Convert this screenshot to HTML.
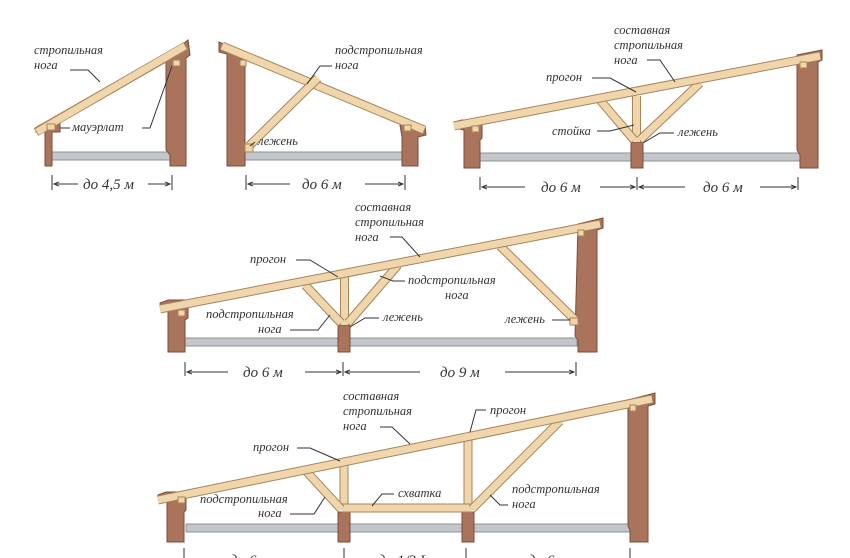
<!DOCTYPE html>
<html><head><meta charset="utf-8"><style>
body{margin:0;background:#fff}
svg{display:block}
text{font-family:"Liberation Serif",serif;font-style:italic;font-size:12.5px;fill:#333}
.d{font-size:15px}
.w{fill:#a9735c;stroke:#7a4e3c;stroke-width:1}
.bo{stroke:#a98458;stroke-width:9;fill:none}
.bi{stroke:#efd6ac;stroke-width:7;fill:none}
.po{stroke:#a98458;stroke-width:9;fill:none}
.fl{fill:#c3c6ca;stroke:#8e9296;stroke-width:1}
.ln{stroke:#333;stroke-width:1;fill:none}
</style></head><body>
<svg width="850" height="558" viewBox="0 0 850 558" xmlns="http://www.w3.org/2000/svg">
<defs>
<marker id="a" markerWidth="6" markerHeight="6" refX="5" refY="3" orient="auto"><path d="M0,1 L5,3 L0,5" fill="none" stroke="#333"/></marker>
</defs>

<!-- Diagram 1 -->
<rect class="fl" x="52" y="152" width="122" height="8"/>
<path class="w" d="M38,126 L47,122 L60,122 L60,132 L52,132 L52,166 L45,166 L45,132 L36,132 Z"/>
<path class="w" d="M168,56 L188,40 L190,55 L186,58 L186,166 L170,166 L170,155 L166,150 L166,62 Z"/>
<line class="bo" x1="36" y1="132" x2="186" y2="46"/><line class="bi" x1="37" y1="132" x2="185" y2="46"/>
<rect x="47" y="124" width="8" height="6" fill="#efd6ac" stroke="#a98458"/>
<rect x="173" y="60" width="7" height="6" fill="#efd6ac" stroke="#a98458"/>
<text x="34" y="54">стропильная</text><text x="34" y="69">нога</text>
<path class="ln" d="M70,70 L88,70 L100,82"/>
<text x="72" y="131">мауэрлат</text><path class="ln" d="M60,128 L70,128 M142,128 L150,128 L172,66"/>
<path class="ln" d="M52,175 V190 M172,175 V190"/>
<line class="ln" x1="78" y1="184" x2="54" y2="184" marker-end="url(#a)"/>
<line class="ln" x1="148" y1="184" x2="170" y2="184" marker-end="url(#a)"/>
<text class="d" x="83" y="189">до 4,5 м</text>

<!-- Diagram 2 -->
<rect class="fl" x="245" y="152" width="160" height="8"/>
<path class="w" d="M219,42 L240,52 L240,58 L245,62 L245,166 L227,166 L227,54 L219,52 Z"/>
<path class="w" d="M400,125 L425,126 L426,135 L418,137 L418,166 L402,166 L402,137 Z"/>
<line class="bo" x1="222" y1="46" x2="424" y2="130"/><line class="bi" x1="222" y1="46" x2="424" y2="130"/>
<line class="bo" x1="249" y1="146" x2="318" y2="78"/><line class="bi" x1="249" y1="146" x2="318" y2="78"/>
<rect x="245" y="144" width="8" height="8" fill="#efd6ac" stroke="#a98458"/>
<rect x="240" y="60" width="6" height="6" fill="#efd6ac" stroke="#a98458"/>
<rect x="404" y="125" width="7" height="6" fill="#efd6ac" stroke="#a98458"/>
<text x="335" y="54">подстропильная</text><text x="335" y="69">нога</text>
<path class="ln" d="M332,66 L320,66 L307,84"/>
<text x="258" y="145">лежень</text><path class="ln" d="M255,142 L250,146"/>
<path class="ln" d="M246,175 V190 M405,175 V190"/>
<line class="ln" x1="290" y1="184" x2="248" y2="184" marker-end="url(#a)"/>
<line class="ln" x1="365" y1="184" x2="403" y2="184" marker-end="url(#a)"/>
<text class="d" x="302" y="189">до 6 м</text>

<!-- Diagram 3 -->
<rect class="fl" x="480" y="153" width="320" height="8"/>
<path class="w" d="M454,122 L462,120 L482,120 L482,138 L480,140 L480,168 L464,168 L464,130 L455,128 Z"/>
<path class="w" d="M797,55 L822,50 L822,60 L818,62 L818,168 L800,168 L800,155 L797,150 Z"/>
<rect class="w" x="631" y="142" width="12" height="26"/>
<line class="po" x1="636.5" y1="96" x2="636.5" y2="142"/><line class="bi" x1="636.5" y1="96" x2="636.5" y2="142"/>
<line class="bo" x1="600" y1="100" x2="634" y2="140"/><line class="bi" x1="600" y1="100" x2="634" y2="140"/>
<line class="bo" x1="700" y1="83" x2="640" y2="140"/><line class="bi" x1="700" y1="83" x2="640" y2="140"/>
<line class="bo" x1="454" y1="126" x2="820" y2="56"/><line class="bi" x1="454" y1="126" x2="820" y2="56"/>
<rect x="472" y="126" width="7" height="6" fill="#efd6ac" stroke="#a98458"/>
<rect x="800" y="62" width="7" height="6" fill="#efd6ac" stroke="#a98458"/>
<text x="614" y="34">составная</text><text x="614" y="49">стропильная</text><text x="614" y="64">нога</text>
<path class="ln" d="M647,60 L660,60 L675,82"/>
<text x="546" y="81">прогон</text><path class="ln" d="M592,78 L610,78 L636,92"/>
<text x="552" y="135">стойка</text><path class="ln" d="M597,131 L610,131 L634,125"/>
<text x="678" y="136">лежень</text><path class="ln" d="M674,133 L660,133 L643,143"/>
<path class="ln" d="M480,177 V190 M637,177 V190 M798,177 V190"/>
<line class="ln" x1="525" y1="187" x2="482" y2="187" marker-end="url(#a)"/>
<line class="ln" x1="600" y1="187" x2="635" y2="187" marker-end="url(#a)"/>
<line class="ln" x1="685" y1="187" x2="639" y2="187" marker-end="url(#a)"/>
<line class="ln" x1="760" y1="187" x2="796" y2="187" marker-end="url(#a)"/>
<text class="d" x="541" y="192">до 6 м</text><text class="d" x="703" y="192">до 6 м</text>

<!-- Diagram 4 -->
<rect class="fl" x="185" y="338" width="392" height="8"/>
<path class="w" d="M160,303 L168,300 L188,300 L188,318 L185,320 L185,352 L168,352 L168,310 L161,308 Z"/>
<path class="w" d="M578,224 L603,218 L603,228 L597,230 L597,352 L578,352 L578,340 L575,336 Z"/>
<rect class="w" x="338" y="325" width="12" height="27"/>
<line class="po" x1="344.5" y1="277" x2="344.5" y2="325"/><line class="bi" x1="344.5" y1="277" x2="344.5" y2="325"/>
<line class="bo" x1="305" y1="285" x2="341" y2="323"/><line class="bi" x1="305" y1="285" x2="341" y2="323"/>
<line class="bo" x1="398" y1="265" x2="348" y2="323"/><line class="bi" x1="398" y1="265" x2="348" y2="323"/>
<line class="bo" x1="500" y1="246" x2="575" y2="320"/><line class="bi" x1="500" y1="246" x2="575" y2="320"/>
<line class="bo" x1="160" y1="309" x2="600" y2="224"/><line class="bi" x1="160" y1="309" x2="600" y2="224"/>
<rect x="178" y="310" width="7" height="6" fill="#efd6ac" stroke="#a98458"/>
<rect x="570" y="318" width="8" height="7" fill="#efd6ac" stroke="#a98458"/>
<rect x="578" y="230" width="6" height="6" fill="#efd6ac" stroke="#a98458"/>
<text x="355" y="211">составная</text><text x="355" y="226">стропильная</text><text x="355" y="241">нога</text>
<path class="ln" d="M390,237 L402,237 L420,257"/>
<text x="250" y="263">прогон</text><path class="ln" d="M296,260 L310,260 L338,277"/>
<text x="408" y="284">подстропильная</text><text x="445" y="299">нога</text>
<path class="ln" d="M405,281 L393,281 L380,276"/>
<text x="206" y="318">подстропильная</text><text x="258" y="333">нога</text>
<path class="ln" d="M290,330 L318,330 L330,315"/>
<text x="383" y="321">лежень</text><path class="ln" d="M379,318 L365,318 L350,327"/>
<text x="505" y="323">лежень</text><path class="ln" d="M552,320 L570,320"/>
<path class="ln" d="M185,362 V376 M343,362 V376 M576,362 V376"/>
<line class="ln" x1="228" y1="372" x2="187" y2="372" marker-end="url(#a)"/>
<line class="ln" x1="305" y1="372" x2="341" y2="372" marker-end="url(#a)"/>
<line class="ln" x1="420" y1="372" x2="345" y2="372" marker-end="url(#a)"/>
<line class="ln" x1="505" y1="372" x2="574" y2="372" marker-end="url(#a)"/>
<text class="d" x="243" y="377">до 6 м</text><text class="d" x="440" y="377">до 9 м</text>

<!-- Diagram 5 -->
<rect class="fl" x="186" y="524" width="444" height="8"/>
<path class="w" d="M158,495 L166,492 L186,492 L186,510 L184,512 L184,542 L167,542 L167,502 L160,500 Z"/>
<path class="w" d="M628,400 L655,393 L655,404 L648,406 L648,542 L630,542 L630,530 L628,526 Z"/>
<rect class="w" x="338" y="512" width="12" height="30"/>
<rect class="w" x="462" y="512" width="12" height="30"/>
<line class="po" x1="344" y1="463" x2="344" y2="510"/><line class="bi" x1="344" y1="463" x2="344" y2="510"/>
<line class="po" x1="468" y1="438" x2="468" y2="510"/><line class="bi" x1="468" y1="438" x2="468" y2="510"/>
<line class="bo" x1="342" y1="508" x2="472" y2="508"/><line class="bi" x1="342" y1="508" x2="472" y2="508"/>
<line class="bo" x1="305" y1="470" x2="341" y2="509"/><line class="bi" x1="305" y1="470" x2="341" y2="509"/>
<line class="bo" x1="560" y1="421" x2="472" y2="509"/><line class="bi" x1="560" y1="421" x2="472" y2="509"/>
<line class="bo" x1="158" y1="500" x2="652" y2="399"/><line class="bi" x1="158" y1="500" x2="652" y2="399"/>
<rect x="178" y="497" width="7" height="6" fill="#efd6ac" stroke="#a98458"/>
<rect x="630" y="405" width="6" height="6" fill="#efd6ac" stroke="#a98458"/>
<text x="343" y="400">составная</text><text x="343" y="415">стропильная</text><text x="343" y="430">нога</text>
<path class="ln" d="M380,427 L392,427 L410,444"/>
<text x="490" y="414">прогон</text><path class="ln" d="M486,410 L476,410 L470,432"/>
<text x="253" y="451">прогон</text><path class="ln" d="M297,448 L310,448 L340,461"/>
<text x="398" y="497">схватка</text><path class="ln" d="M394,494 L382,494 L372,506"/>
<text x="512" y="493">подстропильная</text><text x="512" y="508">нога</text>
<path class="ln" d="M508,505 L500,505 L490,495"/>
<text x="200" y="503">подстропильная</text><text x="258" y="517">нога</text>
<path class="ln" d="M290,514 L314,514 L325,497"/>
<path class="ln" d="M184,548 V558 M344,548 V558 M466,548 V558 M630,548 V558"/>
<text class="d" x="230" y="565">до 6 м</text><text class="d" x="378" y="565">до 1/3 L</text><text class="d" x="528" y="565">до 6 м</text>
</svg>
</body></html>
